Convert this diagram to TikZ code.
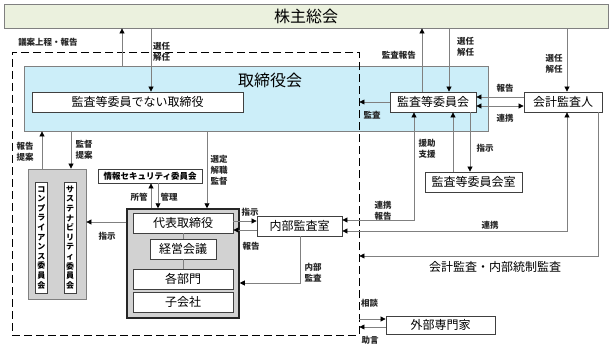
\documentclass[tikz,border=0pt]{standalone}
\usepackage{fontspec}
\setmainfont{Noto Sans CJK JP}
\usetikzlibrary{arrows.meta,calc}
\definecolor{shg}{HTML}{EBF1DE}
\definecolor{bodb}{HTML}{CCEEF9}
\definecolor{grayfill}{HTML}{D2D2D2}
\begin{document}
\begin{tikzpicture}[x=1pt,y=-1pt,
  box/.style={draw=black!75, fill=white, line width=0.8pt, inner sep=0pt, font=\fontsize{12}{14}\selectfont},
  lbl/.style={font=\fontsize{8.5}{11}\selectfont\bfseries, inner sep=0pt, align=center, text=black!85},
  tipx/.tip={Triangle[length=5pt,width=5pt,color=black]},
  arr/.style={draw=black!50, line width=0.7pt, -tipx},
  darr/.style={draw=black!50, line width=0.7pt, tipx-tipx},
  pln/.style={draw=black!50, line width=0.7pt}]
\useasboundingbox (0,0) rectangle (614,348);
% helper coordinates (x columns / y rows)
\foreach \v in {42,71,122,151,158,207,300,414,422,449,453,470,567,598}{\coordinate (c\v) at (\v,0);}
\foreach \v in {97,106,220,221,222,230,231,256,283,319,327}{\coordinate (r\v) at (0,\v);}
% main boxes
\node[draw=black!50, fill=shg, line width=0.8pt, minimum width=604, minimum height=24, inner sep=0pt] (sh) at (306,16) {};
\node[font=\fontsize{16}{18}\selectfont, inner sep=0pt] (sht) at (306,16) {株主総会};
\node[draw=black!50, fill=bodb, line width=0.8pt, minimum width=464, minimum height=65, inner sep=0pt] (bod) at (256,98.5) {};
\node[font=\fontsize{16}{18}\selectfont, inner sep=0pt] (bodt) at (270,80) {取締役会};
\node[draw=black, dashed, dash pattern=on 8pt off 4pt, line width=0.9pt, minimum width=347, minimum height=283, inner sep=0pt] (grp) at (185.5,193.5) {};
\node[box, minimum width=211, minimum height=20] (nd) at (137.5,102) {監査等委員でない取締役};
\node[box, minimum width=86, minimum height=20] (ac) at (433,102) {監査等委員会};
\node[box, minimum width=78, minimum height=20] (ea) at (563,102) {会計監査人};
\node[box, minimum width=97, minimum height=20] (acr) at (473.5,182) {監査等委員会室};
\node[box, minimum width=85, minimum height=20] (ia) at (299.5,226) {内部監査室};
\node[draw=black!85, fill=grayfill, line width=1.5pt, minimum width=112, minimum height=109, inner sep=0pt] (big) at (183,263.5) {};
\node[box, minimum width=100, minimum height=20] (ceo) at (183,223) {代表取締役};
\node[box, minimum width=66, minimum height=20] (mc) at (183,249) {経営会議};
\node[box, minimum width=100, minimum height=20] (dep) at (183,279) {各部門};
\node[box, minimum width=100, minimum height=20] (sub) at (183,302) {子会社};
\node[box, minimum width=104, minimum height=14, font=\fontsize{8.5}{10}\selectfont\bfseries] (isc) at (150,176) {情報セキュリティ委員会};
\node[draw=black!50, fill=grayfill, line width=0.8pt, minimum width=58, minimum height=130, inner sep=0pt] (lg) at (57,234) {};
\node[box, minimum width=12, minimum height=111, align=center, font=\fontsize{8}{9.6}\selectfont\bfseries] (cc) at (41.5,237.5) {コ\\ン\\プ\\ラ\\イ\\ア\\ン\\ス\\委\\員\\会};
\node[box, minimum width=12, minimum height=111, align=center, font=\fontsize{8}{9.6}\selectfont\bfseries] (sc) at (70,237.5) {サ\\ス\\テ\\ナ\\ビ\\リ\\テ\\ィ\\委\\員\\会};
\node[box, minimum width=109, minimum height=18] (ext) at (440.5,325) {外部専門家};
% inner links
\draw[pln] (ceo.south) -- (mc.north);
\draw[pln] (mc.south) -- (dep.north);
% connectors
\draw[arr] (bod.north -| c122) -- (sh.south -| c122);
\node[lbl] (l1) at (48,42) {議案上程・報告};
\draw[arr] (sh.south -| c151) -- (nd.north -| c151);
\node[lbl, anchor=west, align=left] (l2) at (153,51.5) {選任\\解任};
\draw[arr] (ac.north -| c422) -- (sh.south -| c422);
\node[lbl, anchor=east] (l3) at (416,55) {監査報告};
\draw[arr] (sh.south -| c449) -- (ac.north -| c449);
\node[lbl, anchor=west, align=left] (l4) at (457,47) {選任\\解任};
\draw[arr] (sh.south -| c567) -- (ea.north -| c567);
\node[lbl] (l5) at (554,63.5) {選任\\解任};
\draw[arr] (ea.west |- r97) -- (ac.east |- r97);
\node[lbl] (l6) at (505,88) {報告};
\draw[darr] (ac.east |- r106) -- (ea.west |- r106);
\node[lbl] (l7) at (505,118) {連携};
\draw[arr] (ac.west) -- (ac.west -| grp.east);
\node[lbl] (l8) at (372,115) {監査};
\draw[darr] (ia.east |- r220) -- (c414 |- r220) -- (ac.south -| c414);
\node[lbl] (l9) at (383,210.5) {連携\\報告};
\draw[arr] (acr.north -| c453) -- (ac.south -| c453);
\node[lbl] (l10) at (427,148.5) {援助\\支援};
\draw[arr] (ac.south -| c470) -- (acr.north -| c470);
\node[lbl] (l11) at (485,148) {指示};
\draw[darr] (ia.east |- r231) -- (c567 |- r231) -- (ea.south -| c567);
\node[lbl] (l12) at (490,225) {連携};
\draw[arr] (ea.south -| c598) -- (c598 |- r256) -- (grp.east |- r256);
\node[inner sep=0pt, font=\fontsize{12}{14}\selectfont] (l13) at (495,267) {会計監査・内部統制監査};
\draw[arr] (lg.north -| c42) -- (bod.south -| c42);
\node[lbl] (l14) at (25,151.5) {報告\\提案};
\draw[arr] (bod.south -| c71) -- (lg.north -| c71);
\node[lbl] (l15) at (84,149.5) {監督\\提案};
\draw[arr] (bod.south -| c207) -- (big.north -| c207);
\node[lbl] (l16) at (219,170) {選定\\解職\\監督};
\draw[arr] (big.north -| c151) -- (isc.south -| c151);
\node[lbl] (l17) at (139,197) {所管};
\draw[arr] (isc.south -| c158) -- (big.north -| c158);
\node[lbl] (l18) at (169,197) {管理};
\draw[arr] (big.west |- r222) -- (lg.east |- r222);
\node[lbl] (l19) at (107,236) {指示};
\draw[arr] (ceo.east |- r221) -- (ia.west |- r221);
\node[lbl] (l20) at (250,212) {指示};
\draw[arr] (ia.west |- r230) -- (ceo.east |- r230);
\node[lbl] (l21) at (251,246) {報告};
\draw[arr] (ia.south -| c300) -- (c300 |- r283) -- (big.east |- r283);
\node[lbl] (l22) at (313,272.5) {内部\\監査};
\draw[arr] (grp.east |- r319) -- (ext.west |- r319);
\node[lbl, anchor=west] (l23) at (361,303) {相談};
\draw[arr] (ext.west |- r327) -- (grp.east |- r327);
\node[lbl] (l24) at (370,340) {助言};
\end{tikzpicture}
\end{document}
